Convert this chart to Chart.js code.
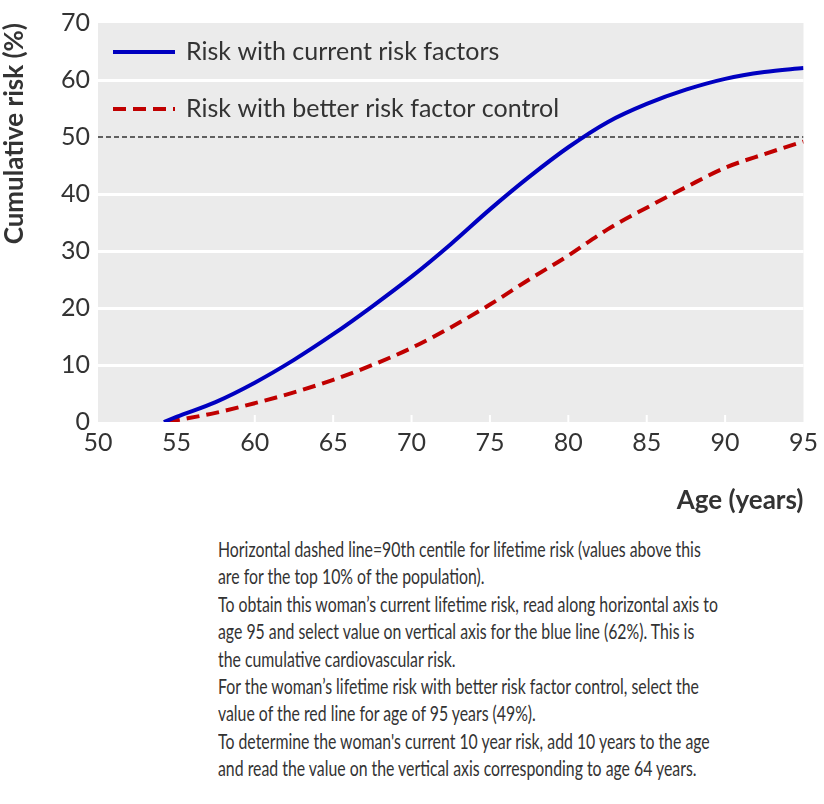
<!DOCTYPE html>
<html>
<head>
<meta charset="utf-8">
<script src="https://cdn.jsdelivr.net/npm/chart.js@4/dist/chart.umd.min.js"></script>
<style>
  body { margin: 0; background: #fff; width: 824px; height: 804px; overflow: hidden; position: relative; }
  #wrap { position: absolute; left: 0; top: 0; width: 824px; height: 530px; }
  #note {
    position: absolute; left: 218px; top: 535px;
    font-family: Lato, sans-serif; font-size: 22px; line-height: 27.4px; color: #333;
    white-space: nowrap; transform: scaleX(0.72); transform-origin: 0 0;
  }
</style>
</head>
<body>
<div id="wrap"><canvas id="risk"></canvas></div>
<div id="note">
Horizontal dashed line=90th centile for lifetime risk (values above this<br>
are for the top 10% of the population).<br>
To obtain this woman’s current lifetime risk, read along horizontal axis to<br>
age 95 and select value on vertical axis for the blue line (62%). This is<br>
the cumulative cardiovascular risk.<br>
For the woman’s lifetime risk with better risk factor control, select the<br>
value of the red line for age of 95 years (49%).<br>
To determine the woman's current 10 year risk, add 10 years to the age<br>
and read the value on the vertical axis corresponding to age 64 years.
</div>
<script>
// values
const currentAges = [54.2, 55, 57.5, 60, 62.5, 65, 67.5, 70, 72.5, 75, 77.5, 80, 82.5, 85, 87.5, 90, 92.5, 95];
const currentRisk = [0, 0.9, 3.5, 6.9, 10.9, 15.4, 20.3, 25.5, 31.2, 37.3, 43.0, 48.2, 52.6, 55.8, 58.3, 60.2, 61.4, 62.1];

const betterAges = [54.4, 55, 57.5, 60, 62.5, 65, 67.5, 70, 72.5, 75, 77.5, 80, 82.5, 85, 87.5, 90, 92.5, 95];
const betterRisk = [0, 0.3, 1.6, 3.3, 5.2, 7.4, 10.0, 13.0, 16.6, 20.6, 25.0, 29.2, 33.8, 37.6, 41.2, 44.6, 47.0, 49.2];

const centileAges = [50, 95];
const centileRisk = [50, 50];

const ageTicks = [50, 55, 60, 65, 70, 75, 80, 85, 90, 95];
const riskTicks = [0, 10, 20, 30, 40, 50, 60, 70];

const toXY = (xs, ys) => xs.map((x, i) => ({ x: x, y: ys[i] }));

const textColor = "#333333";

// grey panel, white tick nicks and legend inside the panel
const panel = {
  id: "panel",
  beforeDraw(chart) {
    const { ctx, chartArea: a } = chart;
    ctx.save();
    ctx.fillStyle = "#ebebeb";
    ctx.fillRect(a.left, a.top, a.right - a.left, a.bottom - a.top);
    ctx.restore();
  },
  beforeDatasetsDraw(chart) {
    const { ctx, chartArea: a, scales } = chart;
    ctx.save();
    ctx.strokeStyle = "#ffffff";
    ctx.lineWidth = 2;
    ageTicks.slice(1, -1).forEach((v) => {
      const x = scales.x.getPixelForValue(v);
      ctx.beginPath();
      ctx.moveTo(x, a.bottom);
      ctx.lineTo(x, a.bottom - 7);
      ctx.stroke();
    });
    ctx.restore();
  },
  afterDraw(chart) {
    const { ctx, chartArea: a } = chart;
    ctx.save();
    ctx.font = "25px Lato";
    ctx.textBaseline = "middle";
    const rows = chart.data.datasets.filter((d) => d.inLegend).sort((p, q) => p.order - q.order);
    rows.forEach((d, i) => {
      const y = a.top + 29 + i * 57;
      ctx.strokeStyle = d.borderColor;
      ctx.lineWidth = d.borderWidth;
      ctx.setLineDash(d.borderDash || []);
      ctx.beginPath();
      ctx.moveTo(a.left + 15, y);
      ctx.lineTo(a.left + 77, y);
      ctx.stroke();
      ctx.fillStyle = textColor;
      ctx.fillText(d.label, a.left + 88, y);
    });
    ctx.restore();
  },
};

new Chart(document.getElementById("risk"), {
  type: "line",
  data: {
    datasets: [
      {
        label: "90th centile",
        data: toXY(centileAges, centileRisk),
        borderColor: "#333333",
        borderWidth: 1.5,
        borderDash: [5, 3],
        pointRadius: 0,
        order: 3,
      },
      {
        label: "Risk with better risk factor control",
        data: toXY(betterAges, betterRisk),
        borderColor: "rgb(192, 0, 0)",
        borderWidth: 4,
        borderDash: [13, 7],
        pointRadius: 0,
        cubicInterpolationMode: "monotone",
        inLegend: true,
        order: 2,
      },
      {
        label: "Risk with current risk factors",
        data: toXY(currentAges, currentRisk),
        borderColor: "rgb(0, 0, 192)",
        borderWidth: 4,
        pointRadius: 0,
        cubicInterpolationMode: "monotone",
        inLegend: true,
        order: 1,
      },
    ],
  },
  options: {
    responsive: true,
    maintainAspectRatio: false,
    animation: false,
    layout: { padding: { top: 20, right: 20, left: 0, bottom: 0 } },
    plugins: {
      legend: { display: false },
      tooltip: { enabled: false },
    },
    scales: {
      x: {
        type: "linear",
        min: 50,
        max: 95,
        afterBuildTicks: (s) => { s.ticks = ageTicks.map((v) => ({ value: v })); },
        afterFit: (s) => { s.height = 108; },
        grid: { display: false, drawTicks: false },
        border: { display: false },
        ticks: { padding: 6, color: textColor, font: { family: "Lato", size: 25 } },
        title: {
          display: true,
          text: "Age (years)",
          align: "end",
          color: textColor,
          font: { family: "Lato", size: 26, weight: "bold" },
          padding: { top: 0, bottom: 14 },
        },
      },
      y: {
        min: 0,
        max: 70,
        afterBuildTicks: (s) => { s.ticks = riskTicks.map((v) => ({ value: v })); },
        afterFit: (s) => { s.width = 98; },
        grid: {
          drawTicks: false,
          lineWidth: 3,
          color: (c) => ([0, 50, 70].includes(c.tick.value) ? "rgba(0,0,0,0)" : "#ffffff"),
        },
        border: { display: false },
        ticks: { padding: 8, color: textColor, font: { family: "Lato", size: 25 } },
        title: {
          display: true,
          text: "Cumulative risk (%)",
          align: "end",
          color: textColor,
          font: { family: "Lato", size: 26, weight: "bold" },
          padding: { top: -1, bottom: 0 },
        },
      },
    },
  },
  plugins: [panel],
});
</script>
</body>
</html>
